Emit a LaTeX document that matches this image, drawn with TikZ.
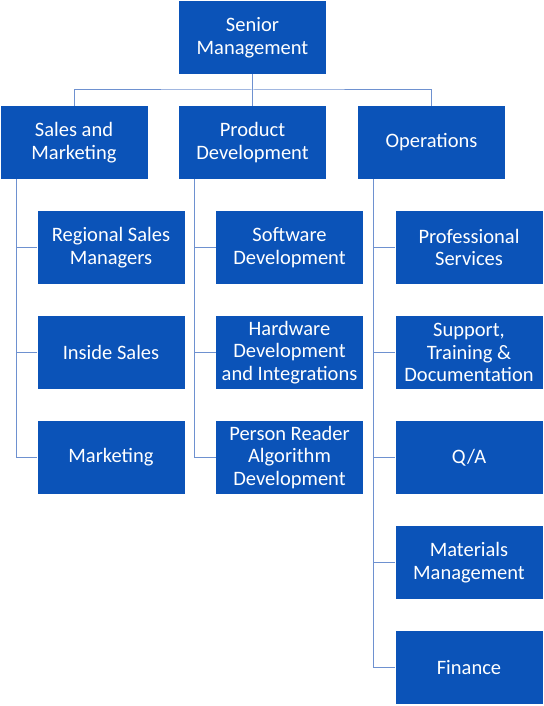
\documentclass[tikz,border=0pt]{standalone}
\usepackage{fontspec}
\setmainfont{Carlito}
\definecolor{boxblue}{RGB}{11,83,184}
\definecolor{linkblue}{RGB}{110,145,208}
\begin{document}
\begin{tikzpicture}[x=1pt,y=1pt,
  box/.style={fill=boxblue,draw=none,text=white,minimum width=147pt,minimum height=73pt,
    inner sep=0pt,align=center,font=\fontsize{20.5}{22.5}\selectfont},
  link/.style={draw=linkblue,line width=1pt}]
\useasboundingbox (0,0) rectangle (543,-706);
\node[box] (sm) at (252.5,-37.5) {Senior\\Management};
\node[box] (sales) at (74,-142.5) {Sales and\\Marketing};
\node[box] (pd) at (252.5,-142.5) {Product\\Development};
\node[box] (ops) at (431.5,-142.5) {Operations};
\node[box] (rsm) at (111,-247.5) {Regional Sales\\Managers};
\node[box] (is) at (111,-352.5) {Inside Sales};
\node[box] (mk) at (111,-457.5) {Marketing};
\node[box] (sw) at (289.5,-247.5) {Software\\Development};
\node[box] (hw) at (289.5,-352.5) {Hardware\\Development\\and Integrations};
\node[box] (pr) at (289.5,-457.5) {Person Reader\\Algorithm\\Development};
\node[box] (ps) at (469,-247.5) {Professional\\Services};
\node[box] (st) at (469,-352.5) {Support,\\Training \&\\Documentation};
\node[box] (qa) at (469,-457.5) {Q/A};
\node[box] (mm) at (469,-562.5) {Materials\\Management};
\node[box] (fi) at (469,-667.5) {Finance};
\coordinate (bus) at (252.5,-90);
\draw[link] (sm.south) -- (bus);
\draw[link] (sales.north) |- (bus) -| (ops.north);
\draw[link] (bus) -- (pd.north);
\foreach \c in {rsm,is,mk} \draw[link] (sales.south west) ++(16,0) |- (\c.west);
\foreach \c in {sw,hw,pr} \draw[link] (pd.south west) ++(16,0) |- (\c.west);
\foreach \c in {ps,st,qa,mm,fi} \draw[link] (ops.south west) ++(16,0) |- (\c.west);
\end{tikzpicture}
\end{document}
